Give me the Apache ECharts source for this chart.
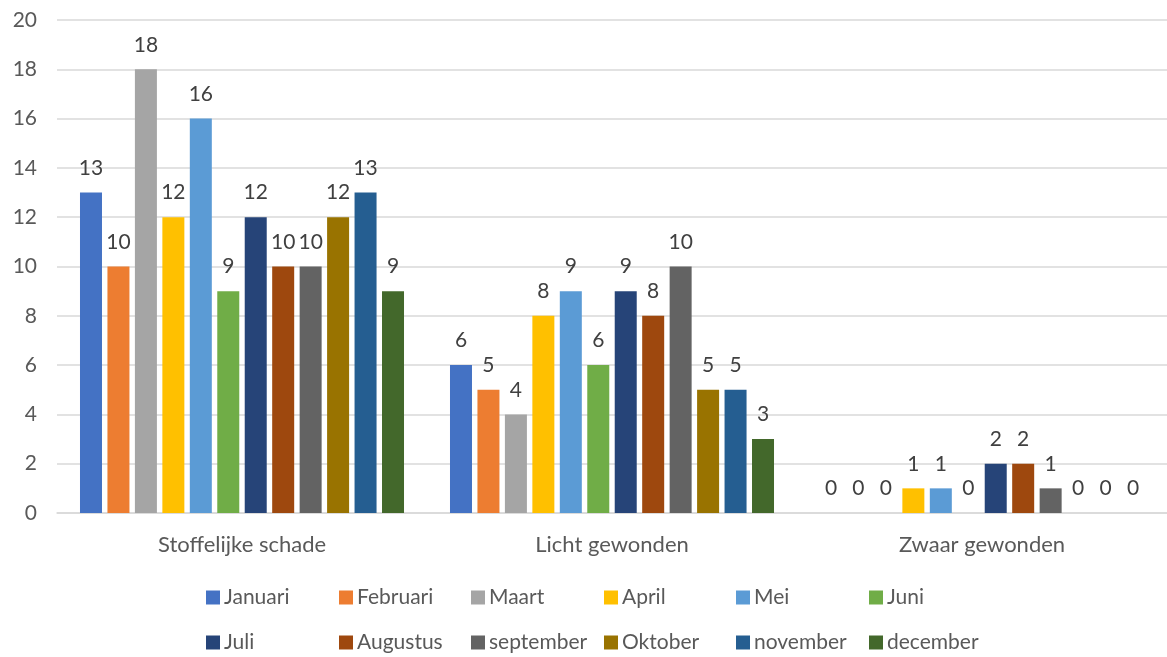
<!DOCTYPE html>
<html>
<head>
<meta charset="utf-8">
<script src="https://cdn.jsdelivr.net/npm/echarts@6/dist/echarts.min.js"></script>
<style>html,body{margin:0;padding:0;background:#fff}#c{width:1167px;height:657px}</style>
</head>
<body>
<div id="c"></div>
<script>
const categories = ['Stoffelijke schade', 'Licht gewonden', 'Zwaar gewonden'];
const months = ['Januari','Februari','Maart','April','Mei','Juni','Juli','Augustus','september','Oktober','november','december'];
const januari   = [13, 6, 0];
const februari  = [10, 5, 0];
const maart     = [18, 4, 0];
const april     = [12, 8, 1];
const mei       = [16, 9, 1];
const juni      = [9, 6, 0];
const juli      = [12, 9, 2];
const augustus  = [10, 8, 2];
const september = [10, 10, 1];
const oktober   = [12, 5, 0];
const november  = [13, 5, 0];
const december  = [9, 3, 0];
const yTicks = [0, 2, 4, 6, 8, 10, 12, 14, 16, 18, 20];

const seriesValues = [januari, februari, maart, april, mei, juni, juli, augustus, september, oktober, november, december];
const colors = ['#4472C4','#ED7D31','#A5A5A5','#FFC000','#5B9BD5','#70AD47','#264478','#9E480E','#636363','#997300','#255E91','#43682B'];
const font = 'Lato, "Open Sans", sans-serif';
const fs = 21;

const legendLeft = [206, 339, 471, 604, 736, 869];
const legendTop = [587, 632];
const legends = months.map((m, i) => ({
  data: [m],
  left: legendLeft[i % 6],
  top: legendTop[Math.floor(i / 6)],
  padding: 0,
  itemWidth: 14, itemHeight: 14, itemGap: 0,
  icon: 'rect',
  textStyle: { fontFamily: font, fontSize: fs, color: '#595959', padding: [0, 0, 0, -1] },
  selectedMode: false
}));

const chart = echarts.init(document.getElementById('c'));
chart.setOption({
  animation: false,
  color: colors,
  grid: { left: 57, right: 0, top: 20, bottom: 144, containLabel: false },
  legend: legends,
  xAxis: {
    type: 'category',
    data: categories,
    axisLine: { show: true, lineStyle: { color: '#D9D9D9', width: 1.5 } },
    axisTick: { show: false },
    axisLabel: { fontFamily: font, fontSize: 22, color: '#595959', margin: 21 }
  },
  yAxis: {
    type: 'value',
    min: yTicks[0], max: yTicks[yTicks.length - 1], interval: 2,
    axisLine: { show: false },
    axisTick: { show: false },
    splitLine: { lineStyle: { color: '#D9D9D9', width: 1.5 } },
    axisLabel: { fontFamily: font, fontSize: fs, color: '#595959', margin: 20 }
  },
  series: months.map((m, i) => ({
    name: m,
    type: 'bar',
    data: seriesValues[i],
    barWidth: 22,
    barGap: '24.8%',
    itemStyle: { color: colors[i] },
    label: { show: true, position: 'top', distance: 14, fontFamily: font, fontSize: fs, color: '#404040' }
  }))
});
</script>
</body>
</html>
